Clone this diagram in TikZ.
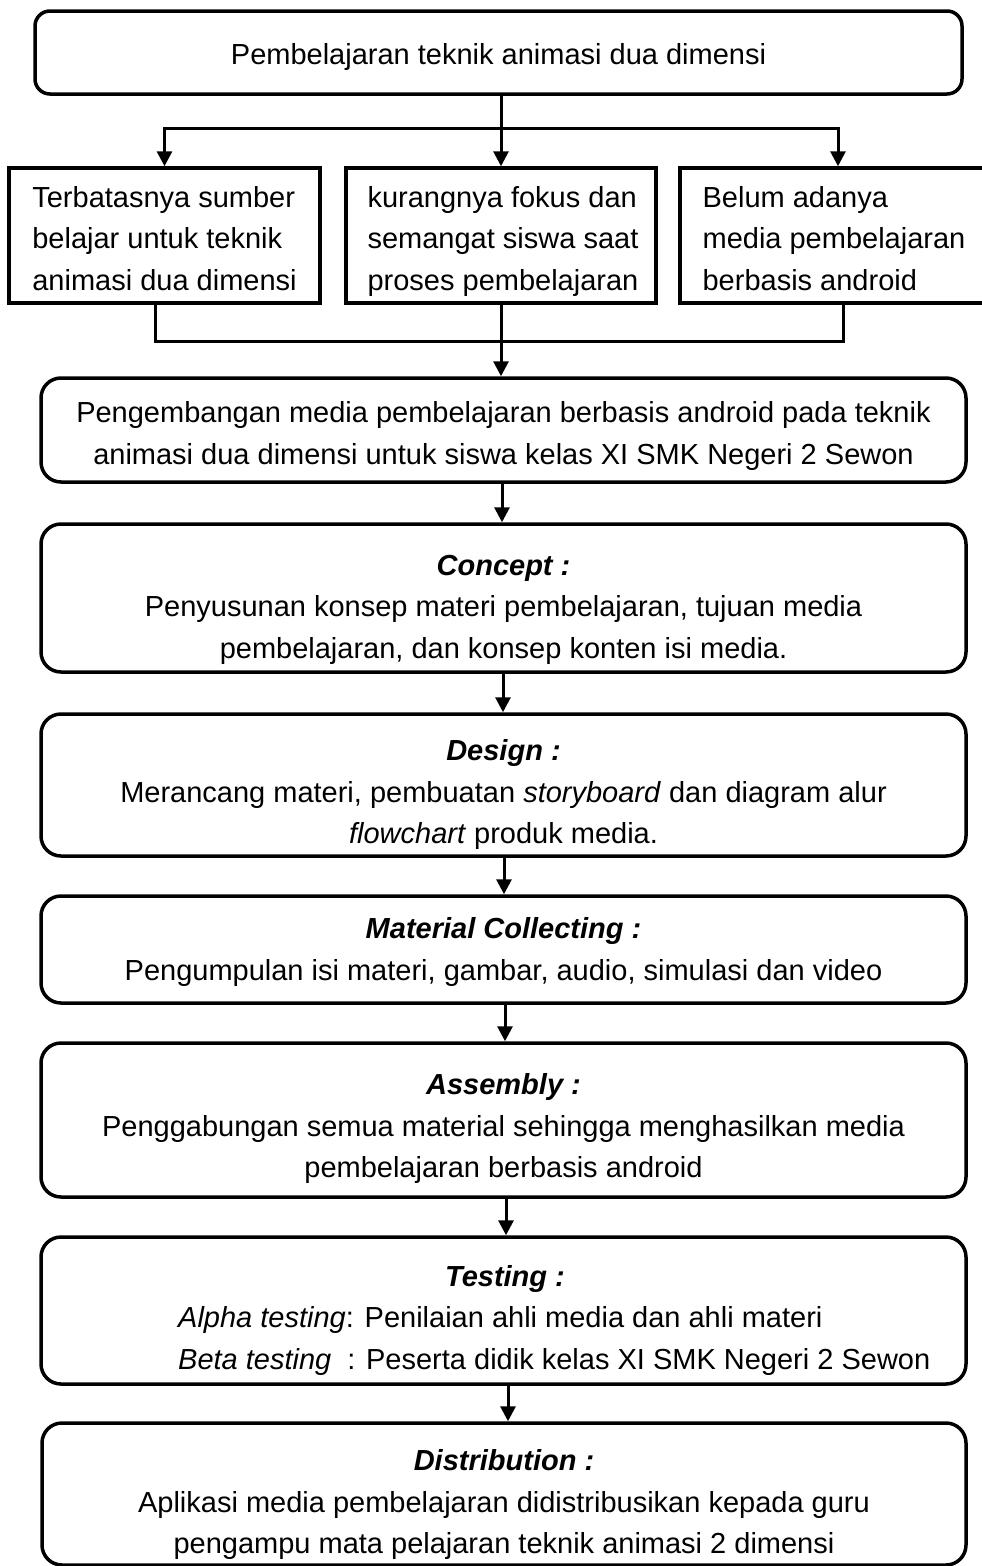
\documentclass[tikz,border=0pt]{standalone}
\usepackage{fontspec}
\setmainfont{Liberation Sans}
\usetikzlibrary{arrows.meta}
\begin{document}
\begin{tikzpicture}[x=1pt,y=-1pt,
  every node/.style={font=\fontsize{29}{41.5}\selectfont},
  ln/.style={line width=3pt},
  arr/.style={line width=3pt,-{Triangle[width=15pt,length=15pt]}},
  rbox/.style={draw,line width=3.5pt,rounded corners=20pt,inner sep=0pt,minimum width=925pt},
  sbox/.style={draw,line width=3.5pt,inner sep=0pt,minimum height=135pt},
  txt/.style={align=center,inner sep=0pt,execute at begin node=\strut,execute at end node=\strut},
  stxt/.style={txt,align=left},
  ttl/.style={inner sep=0pt,font=\fontsize{29}{41.5}\selectfont\bfseries\itshape,execute at begin node=\strut}
]
\useasboundingbox (0,0) rectangle (982,1566);
% top box
\node[draw,line width=3.5pt,rounded corners=15pt,inner sep=0pt,minimum width=927pt,minimum height=83pt,text height=37pt,text depth=12.5pt] (top) at (498.5,52.5) {Pembelajaran teknik animasi dua dimensi};
% three problem boxes
\node[sbox,minimum width=311pt] (b1) at (164.5,235.5) {};
\node[stxt] at (164.5,244.5) {Terbatasnya sumber\\belajar untuk teknik\\animasi dua dimensi};
\node[sbox,minimum width=310pt] (b2) at (501,235.5) {};
\node[stxt] at (503,244.5) {kurangnya fokus dan\\semangat siswa saat\\proses pembelajaran};
\node[sbox,minimum width=316pt] (b3) at (838,235.5) {};
\node[stxt] at (834,244.5) {Belum adanya\\media pembelajaran\\berbasis android};
% main boxes
\node[rbox,minimum height=104pt] (dev) at (503.5,430) {};
\node[txt] at (503.5,439) {Pengembangan media pembelajaran berbasis android pada teknik\\animasi dua dimensi untuk siswa kelas XI SMK Negeri 2 Sewon};
\node[rbox,minimum height=148pt] (concept) at (503.5,598) {};
\node[txt] at (503.5,613) {\textbf{\textit{Concept :}}\\Penyusunan konsep materi pembelajaran, tujuan media\\pembelajaran, dan konsep konten isi media.};
\node[rbox,minimum height=142pt] (design) at (503.5,785) {};
\node[txt] at (503.5,798) {\textbf{\textit{Design :}}\\Merancang materi, pembuatan \textit{storyboard} dan diagram alur\\\textit{flowchart} produk media.};
\node[rbox,minimum height=107pt] (material) at (503.5,949.5) {};
\node[txt] at (503.5,955) {\textbf{\textit{Material Collecting :}}\\Pengumpulan isi materi, gambar, audio, simulasi dan video};
\node[rbox,minimum height=154pt] (assembly) at (503.5,1120) {};
\node[txt] at (503.5,1132) {\textbf{\textit{Assembly :}}\\Penggabungan semua material sehingga menghasilkan media\\pembelajaran berbasis android};
\node[rbox,minimum height=147pt] (testing) at (503.5,1310.5) {};
\node[ttl] at (505,1278) {Testing :};
\node[txt,align=left,anchor=west] at (178,1344) {\textit{Alpha testing}: Penilaian ahli media dan ahli materi\\\textit{Beta testing}\hspace{16pt}: Peserta didik kelas XI SMK Negeri 2 Sewon};
\node[rbox,minimum height=142pt,minimum width=924pt] (dist) at (504,1494) {};
\node[txt] at (504,1508) {\textbf{\textit{Distribution :}}\\Aplikasi media pembelajaran didistribusikan kepada guru\\pengampu mata pelajaran teknik animasi 2 dimensi};
% connectors top
\coordinate (hl) at (164.5,128);
\coordinate (hr) at (838,128);
\draw[arr] (top.south -| b2.north) -- (b2.north);
\draw[arr] (hr) -- (hl) -- (b1.north);
\draw[arr] (hl) -- (hr) -- (b3.north);
% connectors bottom
\coordinate (jl) at (155,341);
\coordinate (jr) at (843,341);
\draw[ln] (b1.south -| jl) -- (jl) -- (jr) -- (b3.south -| jr);
\draw[arr] (b2.south) -- (b2.south |- dev.north);
% main chain
\draw[arr] (dev.south -| 502,0) -- (concept.north -| 502,0);
\draw[arr] (concept.south -| 503,0) -- (design.north -| 503,0);
\draw[arr] (design.south -| 504,0) -- (material.north -| 504,0);
\draw[arr] (material.south -| 505,0) -- (assembly.north -| 505,0);
\draw[arr] (assembly.south -| 506,0) -- (testing.north -| 506,0);
\draw[arr] (testing.south -| 508,0) -- (dist.north -| 508,0);
\end{tikzpicture}
\end{document}
